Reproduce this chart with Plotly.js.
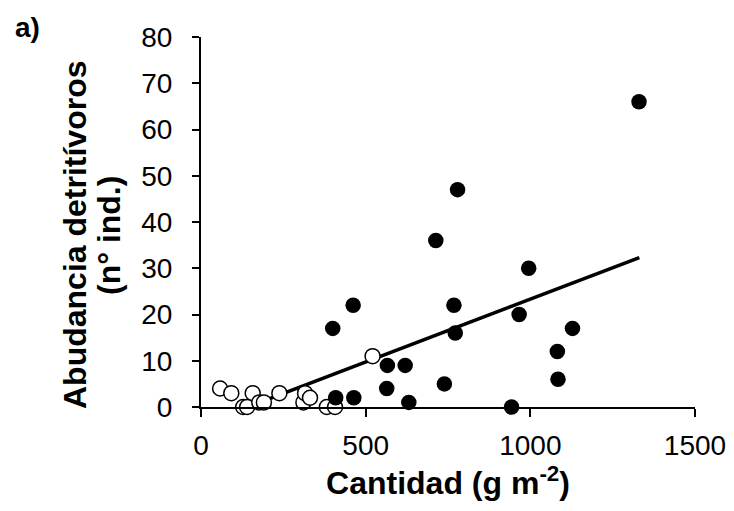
<!DOCTYPE html>
<html>
<head>
<meta charset="utf-8">
<script src="https://cdn.plot.ly/plotly-3.0.1.min.js"></script>
<style>html,body{margin:0;padding:0;background:#fff;}#chart{width:734px;height:511px;}</style>
</head>
<body>
<div id="chart"></div>
<script>
// Filled points (black)
const filledX = [1330, 779, 713, 995, 768, 772, 966, 1128, 1082, 1084, 943, 566, 620, 564, 739, 631, 400, 409, 464, 462];
const filledY = [66, 47, 36, 30, 22, 16, 20, 17, 12, 6, 0, 9, 9, 4, 5, 1, 17, 2, 2, 22];
// Open points (white)
const openX = [58, 92, 157, 128, 140, 177, 191, 238, 311, 316, 331, 382, 407, 521];
const openY = [4, 3, 3, 0, 0, 1, 1, 3, 1, 3, 2, 0, 0, 11];
// Trend line
const lineX = [145, 1331];
const lineY = [0.1, 32.3];

const xTicks = [0, 500, 1000, 1500];
const yTicks = [0, 10, 20, 30, 40, 50, 60, 70, 80];

const font = "Liberation Sans, Arial, sans-serif";
const L = 201, R = 695, T = 37, B = 407;
const PW = R - L, PH = B - T;

const traces = [
  {x: lineX, y: lineY, mode: 'lines', line: {color: '#000', width: 3.5}, hoverinfo: 'skip', cliponaxis: false},
  {x: openX, y: openY, mode: 'markers', marker: {symbol: 'circle', size: 15, color: '#fff', line: {color: '#000', width: 1.5}}, cliponaxis: false},
  {x: filledX, y: filledY, mode: 'markers', marker: {symbol: 'circle', size: 15.5, color: '#000', line: {color: '#000', width: 0}}, cliponaxis: false}
];

const layout = {
  width: 734, height: 511,
  margin: {l: L, r: 734 - R, t: T, b: 511 - B},
  paper_bgcolor: '#fff', plot_bgcolor: '#fff',
  showlegend: false,
  font: {family: font, color: '#000', size: 28},
  xaxis: {
    range: [0, 1500], tickvals: xTicks, ticktext: xTicks.map(String),
    showgrid: false, zeroline: false, showline: true, linecolor: '#000', linewidth: 2,
    ticks: 'outside', ticklen: 8, tickwidth: 2, tickcolor: '#000',
    tickfont: {size: 28, family: font}, ticklabelstandoff: 4,
    title: {text: '<b>Cantidad (g m<sup>-2</sup>)</b>', font: {size: 32, family: font}, standoff: 8}
  },
  yaxis: {
    range: [0, 80], tickvals: yTicks, ticktext: yTicks.map(String),
    showgrid: false, zeroline: false, showline: true, linecolor: '#000', linewidth: 2,
    ticks: 'outside', ticklen: 7, tickwidth: 2, tickcolor: '#000',
    tickfont: {size: 28, family: font}, ticklabelstandoff: 14
  },
  annotations: [
    {text: '<b>Abudancia detritívoros</b>', textangle: -90, xref: 'paper', yref: 'paper',
     x: (75 - L) / PW, y: (B - 234) / PH, xanchor: 'center', yanchor: 'middle',
     showarrow: false, font: {size: 32, family: font}},
    {text: '<b>(n° ind.)</b>', textangle: -90, xref: 'paper', yref: 'paper',
     x: (109 - L) / PW, y: (B - 236) / PH, xanchor: 'center', yanchor: 'middle',
     showarrow: false, font: {size: 32, family: font}},
    {text: '<b>a)</b>', xref: 'paper', yref: 'paper', x: (13 - L) / PW, y: (B - 27) / PH,
     xanchor: 'left', yanchor: 'middle', showarrow: false, font: {size: 28, family: font}}
  ]
};

Plotly.newPlot('chart', traces, layout, {displayModeBar: false, staticPlot: true});
</script>
</body>
</html>
